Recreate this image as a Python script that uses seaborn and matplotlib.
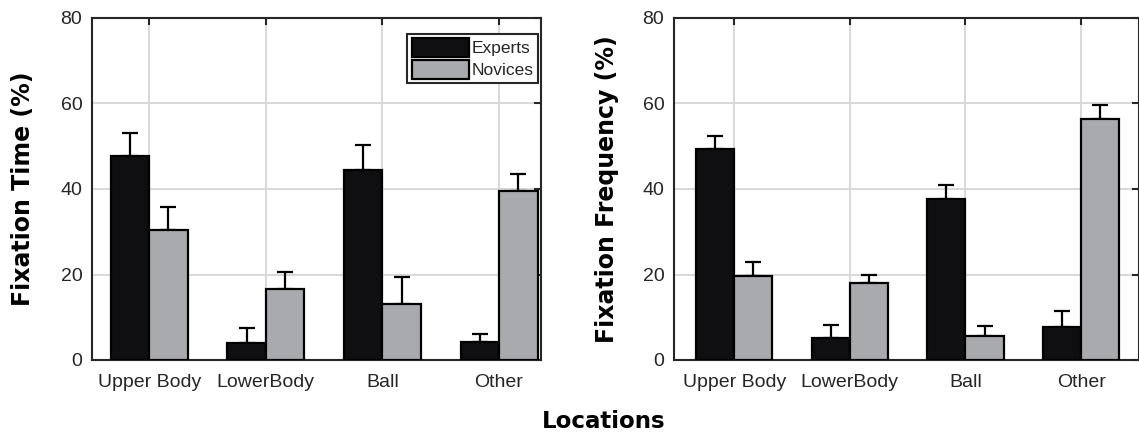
import matplotlib
matplotlib.use("Agg")
import matplotlib.pyplot as plt
import seaborn as sns
import pandas as pd

locations = ["Upper Body", "LowerBody", "Ball", "Other"]
groups = ["Experts", "Novices"]

time_experts = [47.8, 4.0, 44.4, 4.3]
time_novices = [30.3, 16.7, 13.0, 39.6]
time_experts_err = [5.2, 3.5, 5.8, 1.8]
time_novices_err = [5.4, 3.8, 6.5, 3.8]

freq_experts = [49.3, 5.1, 37.6, 7.8]
freq_novices = [19.7, 17.9, 5.7, 56.3]
freq_experts_err = [3.0, 3.2, 3.3, 3.6]
freq_novices_err = [3.2, 2.1, 2.2, 3.3]

colors = {"Experts": "#0f0f12", "Novices": "#a8aaad"}

sns.set_style("white")
plt.rcParams["font.family"] = ["Liberation Sans", "DejaVu Sans"]

fig = plt.figure(figsize=(11.39, 4.34), dpi=100)
W, H = 1139, 434
ax1 = fig.add_axes([92 / W, (H - 360) / H, 449 / W, 342 / H])
ax2 = fig.add_axes([674 / W, (H - 360) / H, 465 / W, 342 / H])


def draw(ax, experts, novices, e_err, n_err, ylabel, xlim, label_x):
    df = pd.DataFrame({
        "Location": locations * 2,
        "Group": ["Experts"] * 4 + ["Novices"] * 4,
        "Value": experts + novices,
    })
    sns.barplot(data=df, x="Location", y="Value", hue="Group", order=locations,
                hue_order=groups, palette=colors, width=0.66, errorbar=None,
                edgecolor="black", linewidth=1.6, saturation=1, ax=ax, zorder=3)
    errs = e_err + n_err
    vals = experts + novices
    for p, v, e in zip(ax.patches[:8], vals, errs):
        x = p.get_x() + p.get_width() / 2
        ax.errorbar(x, v, yerr=[[0], [e]], fmt="none", ecolor="black",
                    elinewidth=1.6, capsize=6, capthick=1.6, zorder=2)
    ax.set_ylim(0, 80)
    ax.set_xlim(*xlim)
    ax.set_yticks([0, 20, 40, 60, 80])
    ax.grid(True, color="#d8d8d8", linewidth=1.4, zorder=0)
    ax.set_axisbelow(True)
    for s in ax.spines.values():
        s.set_color("#262626")
        s.set_linewidth(1.5)
    ax.tick_params(direction="in", length=5, width=1.5, colors="#262626",
                   labelsize=14, top=True, right=True)
    ax.tick_params(axis="x", pad=10)
    ax.tick_params(axis="y", pad=7)
    ax.set_xlabel("")
    ax.set_ylabel(ylabel, fontsize=17, fontweight="bold", family="DejaVu Sans",
                  color="black")
    ax.yaxis.set_label_coords(label_x, 0.5)


draw(ax1, time_experts, time_novices, time_experts_err, time_novices_err,
     "Fixation Time (%)", (-0.49, 3.36), (35 - 92) / 449)
draw(ax2, freq_experts, freq_novices, freq_experts_err, freq_novices_err,
     "Fixation Frequency (%)", (-0.52, 3.5), (619 - 674) / 465)

ax2.get_legend().remove()
leg = ax1.legend(loc="upper right", bbox_to_anchor=((538 - 92) / 449, 1 - (34 - 18) / 342),
                 borderaxespad=0, fontsize=12.5, handlelength=3.3, handleheight=1.25,
                 handletextpad=0.15, labelspacing=0.2, borderpad=0.25,
                 fancybox=False, framealpha=1)
leg.get_frame().set_edgecolor("#262626")
leg.get_frame().set_linewidth(1.5)

fig.text(604 / W, 1 - 422 / H, "Locations", ha="center", va="center",
         fontsize=16.5, fontweight="bold", family="DejaVu Sans", color="black")

fig.savefig("out.png", dpi=100)
